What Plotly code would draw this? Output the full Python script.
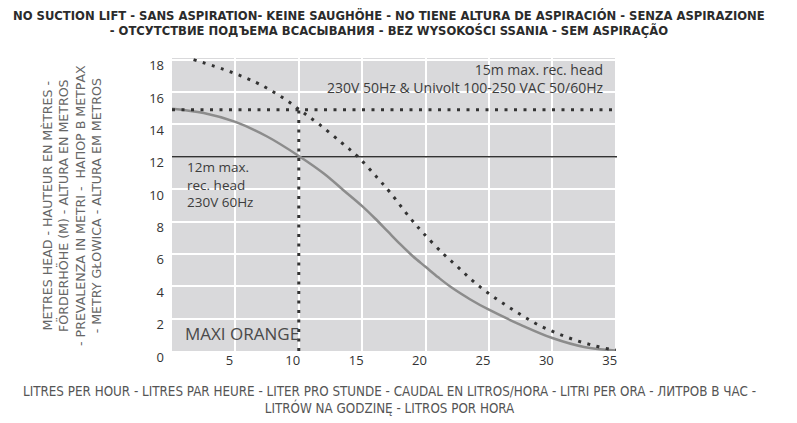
import plotly.graph_objects as go

# ---- data ----
flow_50hz = [1.7, 4.6, 6.6, 7.9, 9.2, 10.4, 11.7, 13.4, 14.6, 16.2, 17.2, 18.8, 19.8,
             21.4, 22.6, 23.7, 24.9, 26.2, 27.5, 28.8, 30.2, 31.7, 33.2, 34.6, 35.0]
head_50hz = [18.0, 17.25, 16.6, 16.05, 15.4, 14.7, 13.95, 12.85, 12.05, 10.7, 9.8, 8.2, 7.3,
             6.0, 5.15, 4.35, 3.6, 2.9, 2.25, 1.65, 1.15, 0.7, 0.35, 0.1, 0.05]

flow_60hz = [0, 2.5, 5, 7.5, 10, 12, 13.5, 15, 16, 17, 18, 19, 20, 21, 22, 23.5, 25,
             27.5, 30, 32.5, 35]
head_60hz = [14.97, 14.7, 14.15, 13.25, 12.05, 10.95, 9.95, 8.95, 8.2, 7.4, 6.6, 5.85, 5.2,
             4.55, 3.95, 3.2, 2.55, 1.62, 0.8, 0.25, 0.03]

max_head_50hz = 14.9      # 15m max. rec. head
max_head_60hz = 12.0      # 12m max. rec. head
flow_at_max_head = 10.0   # flow at 15m line
x_range = [0, 35.1]
y_range = [0, 18.1]

x_ticks = [5, 10, 15, 20, 25, 30, 35]
y_ticks = [0, 2, 4, 6, 8, 10, 12, 14, 16, 18]

title_lines = ["NO SUCTION LIFT - SANS ASPIRATION- KEINE SAUGHÖHE - NO TIENE ALTURA DE ASPIRACIÓN - SENZA ASPIRAZIONE",
               "- ОТСУТСТВИЕ ПОДЪЕМА ВСАСЫВАНИЯ - BEZ WYSOKOŚCI SSANIA - SEM ASPIRAÇÃO"]
xtitle_lines = ["LITRES PER HOUR - LITRES PAR HEURE - LITER PRO STUNDE - CAUDAL EN LITROS/HORA - LITRI PER ORA - ЛИТРОВ В ЧАС -",
                "LITRÓW NA GODZINĘ - LITROS POR HORA"]
ytitle_lines = ["METRES HEAD - HAUTEUR EN MÈTRES -",
                "FÖRDERHÖHE (M) - ALTURA EN METROS",
                "- PREVALENZA IN METRI -  НАПОР В МЕТРАХ",
                "- METRY GŁOWICA - ALTURA EM METROS"]
label_50hz = ["15m max. rec. head", "230V 50Hz & Univolt 100-250 VAC 50/60Hz"]
label_60hz = ["12m max.", "rec. head", "230V 60Hz"]
model_name = "MAXI ORANGE"

FONT = "Open Sans, Noto Sans, sans-serif"
WIDE = "DejaVu Sans, sans-serif"
NARROW = "Liberation Sans Narrow, DejaVu Sans Condensed, sans-serif"
DOT = "3px,6.5px"

L, T, PW, PH = 172, 58, 445, 293

fig = go.Figure()

fig.add_trace(go.Scatter(x=x_range, y=[max_head_60hz, max_head_60hz], mode="lines",
                         line=dict(color="#333333", width=1.5), hoverinfo="skip"))
fig.add_trace(go.Scatter(x=flow_60hz, y=head_60hz, mode="lines", line_shape="spline",
                         line=dict(color="#8c8c8c", width=2.5), hoverinfo="skip"))
fig.add_trace(go.Scatter(x=x_range, y=[max_head_50hz, max_head_50hz], mode="lines",
                         line=dict(color="#333333", width=3, dash=DOT), hoverinfo="skip"))
fig.add_trace(go.Scatter(x=[flow_at_max_head, flow_at_max_head], y=[y_range[0], max_head_50hz],
                         mode="lines", line=dict(color="#333333", width=3, dash=DOT), hoverinfo="skip"))
fig.add_trace(go.Scatter(x=flow_50hz, y=head_50hz, mode="lines", line_shape="spline",
                         line=dict(color="#333333", width=3, dash=DOT), hoverinfo="skip"))


def px_x(px):
    return (px - L) / PW


def px_y(py):
    return 1 - (py - T) / PH


ann = [
    dict(text="<br>".join(title_lines), xref="paper", yref="paper", x=px_x(389), y=px_y(23.5),
         xanchor="center", yanchor="middle", showarrow=False,
         font=dict(family=WIDE, size=11.6, color="#2b2b2b", weight="bold")),
    dict(text="<br>".join(xtitle_lines), xref="paper", yref="paper", x=px_x(389), y=px_y(399.5),
         xanchor="center", yanchor="middle", showarrow=False,
         font=dict(family=NARROW, size=13.3, color="#555555")),
    dict(text="<br>".join(ytitle_lines), xref="paper", yref="paper", x=px_x(72), y=px_y(206),
         xanchor="center", yanchor="middle", showarrow=False, textangle=-90,
         font=dict(family=WIDE, size=12.6, color="#666666")),
    dict(text="<br>".join(label_50hz), xref="paper", yref="paper", x=px_x(606), y=px_y(78),
         xanchor="right", yanchor="middle", align="right", showarrow=False,
         font=dict(family=FONT, size=14, color="#3c3c3c")),
    dict(text="<br>".join(label_60hz), xref="paper", yref="paper", x=px_x(185), y=px_y(184.5),
         xanchor="left", yanchor="middle", align="left", showarrow=False,
         font=dict(family=FONT, size=13.5, color="#3c3c3c")),
    dict(text=model_name, xref="paper", yref="paper", x=px_x(183), y=px_y(333),
         xanchor="left", yanchor="middle", showarrow=False,
         font=dict(family=FONT, size=17, color="#4a4a4a")),
]

fig.update_layout(
    width=797, height=423,
    margin=dict(l=L, r=797 - L - PW, t=T, b=423 - T - PH),
    paper_bgcolor="white", plot_bgcolor="#d9d9db",
    showlegend=False,
    annotations=ann,
    font=dict(family=FONT, size=13, color="#333333"),
    xaxis=dict(range=x_range, tickvals=x_ticks, showgrid=True, gridcolor="white", gridwidth=2,
               zeroline=False, showline=False, ticks="", ticklabelshift=-6,
               tickfont=dict(size=13, color="#333333"), fixedrange=True),
    yaxis=dict(range=y_range, tickvals=y_ticks, showgrid=True, gridcolor="white", gridwidth=2,
               zeroline=False, showline=False, ticks="", ticklabelshift=6, ticklabelstandoff=7,
               tickfont=dict(size=13, color="#333333"), fixedrange=True),
)

fig.write_html("out.html", config={"displayModeBar": False},
               post_script="document.body.style.margin='0';")
